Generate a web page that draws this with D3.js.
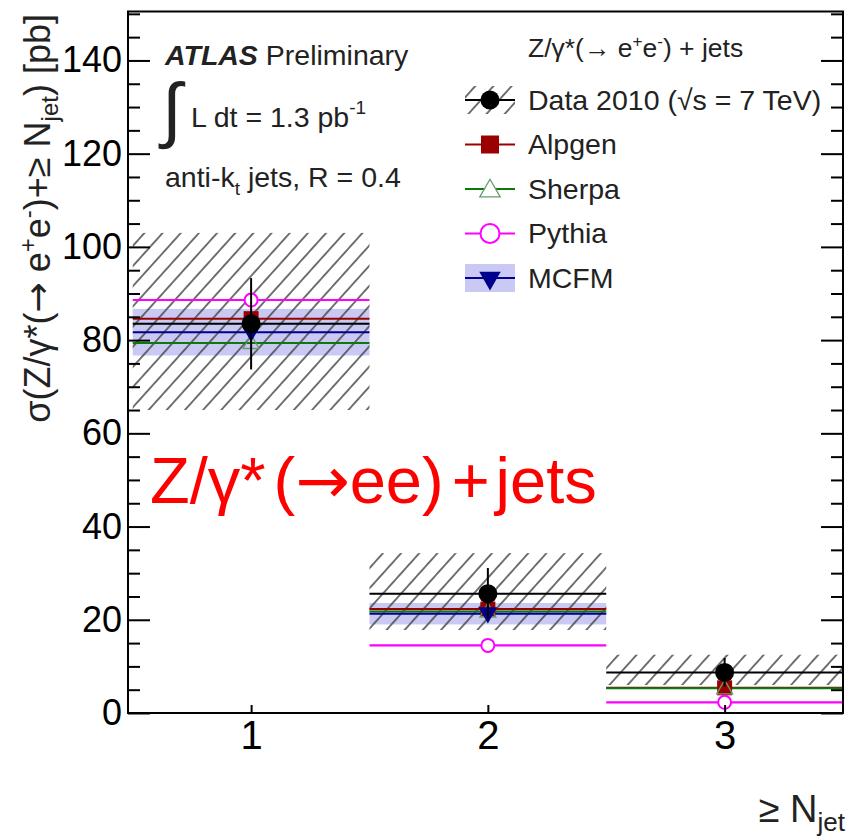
<!DOCTYPE html>
<html>
<head>
<meta charset="utf-8">
<script src="https://cdn.jsdelivr.net/npm/d3@7"></script>
<style>
  body { margin: 0; background: #fff; }
  svg text { font-family: "Liberation Sans", Arial, sans-serif; }
</style>
</head>
<body>
<div id="chart"></div>
<script>
// values
const nJet = [1, 2, 3];
const xTicks = [1, 2, 3];
const yTicks = [0, 20, 40, 60, 80, 100, 120, 140];
const dataXs = [83.5, 25.6, 8.7];
const dataStat = [9.8, 5.5, 3.1];
const dataSystUp = [19.5, 8.7, 3.8];
const dataSystDown = [18.5, 7.8, 2.7];
const alpgenXs = [84.6, 22.3, 5.4];
const sherpaXs = [79.4, 21.8, 5.3];
const pythiaXs = [88.6, 14.5, 2.3];
const mcfmXs = [81.7, 21.3];
const mcfmErr = [5.0, 2.3];
const legendNames = ["Data 2010 (\u221As = 7 TeV)", "Alpgen", "Sherpa", "Pythia", "MCFM"];

const W = 848, H = 837;
const colors = {
  data: "#000",
  alpgen: "#9b0000",
  sherpa: "#0a7a0a",
  pythia: "#ff00ff",
  mcfm: "#00008c",
  band: "#c9c9f4",
  hatch: "#444"
};

const svg = d3.select("#chart").append("svg")
  .attr("width", W).attr("height", H);

const defs = svg.append("defs");
defs.append("pattern")
  .attr("id", "hatch")
  .attr("patternUnits", "userSpaceOnUse")
  .attr("width", 13.5).attr("height", 13.5)
  .attr("patternTransform", "rotate(42)")
  .append("line")
    .attr("x1", 6.75).attr("y1", 0).attr("x2", 6.75).attr("y2", 13.5)
    .attr("stroke", colors.hatch).attr("stroke-width", 1.5);

const x = d3.scaleLinear().domain([0.48, 3.5]).range([128, 843]);
const y = d3.scaleLinear().domain([0, 150.5]).range([713, 11.5]);

const plot = svg.append("g");

// MCFM uncertainty band
plot.selectAll("rect.band")
  .data(mcfmXs)
  .enter().append("rect")
    .attr("x", (d, i) => x(nJet[i] - 0.5))
    .attr("width", (d, i) => x(nJet[i] + 0.5) - x(nJet[i] - 0.5))
    .attr("y", (d, i) => y(d + mcfmErr[i]))
    .attr("height", (d, i) => y(d - mcfmErr[i]) - y(d + mcfmErr[i]))
    .attr("fill", colors.band);

// data systematic (hatched)
plot.selectAll("rect.syst")
  .data(dataXs)
  .enter().append("rect")
    .attr("x", (d, i) => x(nJet[i] - 0.5))
    .attr("width", (d, i) => x(nJet[i] + 0.5) - x(nJet[i] - 0.5))
    .attr("y", (d, i) => y(d + dataSystUp[i]))
    .attr("height", (d, i) => y(d - dataSystDown[i]) - y(d + dataSystUp[i]))
    .attr("fill", "url(#hatch)");

// horizontal bin lines for each prediction
function binLines(vals, color, width) {
  plot.append("g").selectAll("line")
    .data(vals)
    .enter().append("line")
      .attr("x1", (d, i) => x(nJet[i] - 0.5))
      .attr("x2", (d, i) => x(nJet[i] + 0.5))
      .attr("y1", d => y(d)).attr("y2", d => y(d))
      .attr("stroke", color).attr("stroke-width", width);
}
binLines(pythiaXs, colors.pythia, 2.2);
binLines(alpgenXs, colors.alpgen, 2);
binLines(sherpaXs, colors.sherpa, 2);
binLines(mcfmXs, colors.mcfm, 2);
binLines(dataXs, colors.data, 2);

// markers
const tri = d3.symbol().type(d3.symbolTriangle).size(110);
plot.append("g").selectAll("rect")
  .data(alpgenXs)
  .enter().append("rect")
    .attr("x", (d, i) => x(nJet[i]) - 7.5).attr("y", d => y(d) - 7.5)
    .attr("width", 15).attr("height", 15)
    .attr("fill", colors.alpgen);
plot.append("g").selectAll("path")
  .data(sherpaXs)
  .enter().append("path")
    .attr("d", tri)
    .attr("transform", (d, i) => `translate(${x(nJet[i])},${y(d) + 1})`)
    .attr("fill", "none").attr("stroke", "#6a9a6a").attr("stroke-width", 1.3);
plot.append("g").selectAll("path")
  .data(mcfmXs)
  .enter().append("path")
    .attr("d", d3.symbol().type(d3.symbolTriangle).size(150))
    .attr("transform", (d, i) => `translate(${x(nJet[i])},${y(d) - 1}) rotate(180)`)
    .attr("fill", colors.mcfm);
plot.append("g").selectAll("circle")
  .data(pythiaXs)
  .enter().append("circle")
    .attr("cx", (d, i) => x(nJet[i])).attr("cy", d => y(d))
    .attr("r", 6.5)
    .attr("fill", "#fff").attr("stroke", colors.pythia).attr("stroke-width", 2);

// data: stat error bars and points
plot.append("g").selectAll("line")
  .data(dataXs)
  .enter().append("line")
    .attr("x1", (d, i) => x(nJet[i])).attr("x2", (d, i) => x(nJet[i]))
    .attr("y1", (d, i) => y(d + dataStat[i])).attr("y2", (d, i) => y(d - dataStat[i]))
    .attr("stroke", "#000").attr("stroke-width", 2);
plot.append("g").selectAll("circle")
  .data(dataXs)
  .enter().append("circle")
    .attr("cx", (d, i) => x(nJet[i])).attr("cy", d => y(d))
    .attr("r", 9.5).attr("fill", "#000");

// frame and axes
svg.append("rect")
  .attr("x", x.range()[0]).attr("y", y.range()[1])
  .attr("width", x.range()[1] - x.range()[0])
  .attr("height", y.range()[0] - y.range()[1])
  .attr("fill", "none").attr("stroke", "#000").attr("stroke-width", 2);

const minorTicks = d3.range(0, 151, 5).filter(v => v % 20 !== 0);

const yAxis = svg.append("g")
  .attr("transform", `translate(${x.range()[0]},0)`)
  .call(d3.axisLeft(y).tickValues(yTicks).tickSize(-22).tickPadding(6));
svg.append("g")
  .attr("transform", `translate(${x.range()[0]},0)`)
  .call(d3.axisLeft(y).tickValues(minorTicks).tickSize(-12).tickFormat(""));
svg.append("g")
  .attr("transform", `translate(${x.range()[1]},0)`)
  .call(d3.axisRight(y).tickValues(yTicks).tickSize(-22).tickFormat(""));
svg.append("g")
  .attr("transform", `translate(${x.range()[1]},0)`)
  .call(d3.axisRight(y).tickValues(minorTicks).tickSize(-12).tickFormat(""));
const xAxis = svg.append("g")
  .attr("transform", `translate(0,${y.range()[0]})`)
  .call(d3.axisBottom(x).tickValues(xTicks).tickSize(-8).tickPadding(8).tickFormat(d3.format("d")));

svg.selectAll(".domain").remove();
svg.selectAll(".tick line").attr("stroke", "#000").attr("stroke-width", 2);
yAxis.selectAll("text").attr("font-size", 36).attr("fill", "#000")
  .attr("font-family", "Liberation Sans, Arial, sans-serif");
xAxis.selectAll("text").attr("font-size", 40).attr("fill", "#000")
  .attr("font-family", "Liberation Sans, Arial, sans-serif");

// axis titles
const yt = svg.append("text")
  .attr("transform", "translate(50,14) rotate(-90)")
  .attr("text-anchor", "end")
  .attr("font-size", 36).attr("fill", "#222");
yt.append("tspan").text("\u03C3(Z/\u03B3*(");
yt.append("tspan").text("\u2192").attr("font-family", "DejaVu Sans");
yt.append("tspan").text(" e");
yt.append("tspan").text("+").attr("font-size", 24).attr("dy", -14);
yt.append("tspan").text("e").attr("dy", 14);
yt.append("tspan").text("-").attr("font-size", 24).attr("dy", -14);
yt.append("tspan").text(")+\u2265 N").attr("dy", 14);
yt.append("tspan").text("jet").attr("font-size", 24).attr("dy", 8);
yt.append("tspan").text(") [pb]").attr("dy", -8);

const xt = svg.append("text")
  .attr("x", 845).attr("y", 822)
  .attr("text-anchor", "end")
  .attr("font-size", 38).attr("fill", "#222");
xt.append("tspan").text("\u2265 N");
xt.append("tspan").text("jet").attr("font-size", 26).attr("dy", 9);

// ATLAS labels
const atl = svg.append("text").attr("x", 165).attr("y", 65).attr("font-size", 28.5).attr("fill", "#222");
atl.append("tspan").text("ATLAS").attr("font-style", "italic").attr("font-weight", "bold");
atl.append("tspan").text(" Preliminary");

svg.append("text").attr("x", 162).attr("y", 134)
  .attr("font-size", 72).attr("font-family", "DejaVu Sans").attr("fill", "#222")
  .text("\u222B");
const lum = svg.append("text").attr("x", 191).attr("y", 127).attr("font-size", 28.5).attr("fill", "#222");
lum.append("tspan").text("L dt = 1.3 pb");
lum.append("tspan").text("-1").attr("font-size", 19).attr("dy", -13);

const ak = svg.append("text").attr("x", 165).attr("y", 187).attr("font-size", 28.5).attr("fill", "#222");
ak.append("tspan").text("anti-k");
ak.append("tspan").text("t").attr("font-size", 19).attr("dy", 8);
ak.append("tspan").text(" jets, R = 0.4").attr("dy", -8);

// legend
const lh = svg.append("text").attr("x", 528).attr("y", 57).attr("font-size", 26.5).attr("fill", "#222");
lh.append("tspan").text("Z/\u03B3*(\u2192 e");
lh.append("tspan").text("+").attr("font-size", 17).attr("dy", -10);
lh.append("tspan").text("e").attr("dy", 10);
lh.append("tspan").text("-").attr("font-size", 17).attr("dy", -10);
lh.append("tspan").text(") + jets").attr("dy", 10);

const leg = svg.append("g");
const legColors = [colors.data, colors.alpgen, colors.sherpa, colors.pythia, colors.mcfm];
legendNames.forEach((name, i) => {
  const cy = 100 + i * 44.5;
  const g = leg.append("g").attr("transform", `translate(490,${cy})`);
  if (i === 0) {
    g.append("rect").attr("x", -25).attr("y", -14).attr("width", 50).attr("height", 28)
      .attr("fill", "url(#hatch)");
  }
  if (i === 4) {
    g.append("rect").attr("x", -25).attr("y", -14).attr("width", 50).attr("height", 28)
      .attr("fill", colors.band);
  }
  g.append("line").attr("x1", -25).attr("x2", 25)
    .attr("stroke", legColors[i]).attr("stroke-width", 2);
  if (i === 0) g.append("circle").attr("r", 9.5).attr("fill", "#000");
  if (i === 1) g.append("rect").attr("x", -9).attr("y", -9).attr("width", 18).attr("height", 18).attr("fill", colors.alpgen);
  if (i === 2) g.append("path").attr("d", d3.symbol().type(d3.symbolTriangle).size(180))
    .attr("transform", "translate(0,2)")
    .attr("fill", "#fff").attr("stroke", "#6a9a6a").attr("stroke-width", 1.3);
  if (i === 3) g.append("circle").attr("r", 9.5).attr("fill", "#fff").attr("stroke", colors.pythia).attr("stroke-width", 2);
  if (i === 4) g.append("path").attr("d", d3.symbol().type(d3.symbolTriangle).size(200))
    .attr("transform", "rotate(180)").attr("fill", colors.mcfm);
  leg.append("text").attr("x", 528).attr("y", cy + 9.5)
    .attr("font-size", 28.5).attr("fill", "#222").text(name);
});

// red annotation
const red = svg.append("text")
  .attr("x", 150).attr("y", 503)
  .attr("font-family", "Lato, 'Open Sans', sans-serif")
  .attr("font-size", 65).attr("fill", "#ff0000");
red.append("tspan").text("Z/\u03B3*");
red.append("tspan").text("(").attr("dx", 8);
red.append("tspan").text("\u2192").attr("font-family", "DejaVu Sans");
red.append("tspan").text("ee)");
red.append("tspan").text("+").attr("dx", 8);
red.append("tspan").text("jets").attr("dx", 6);
</script>
</body>
</html>
